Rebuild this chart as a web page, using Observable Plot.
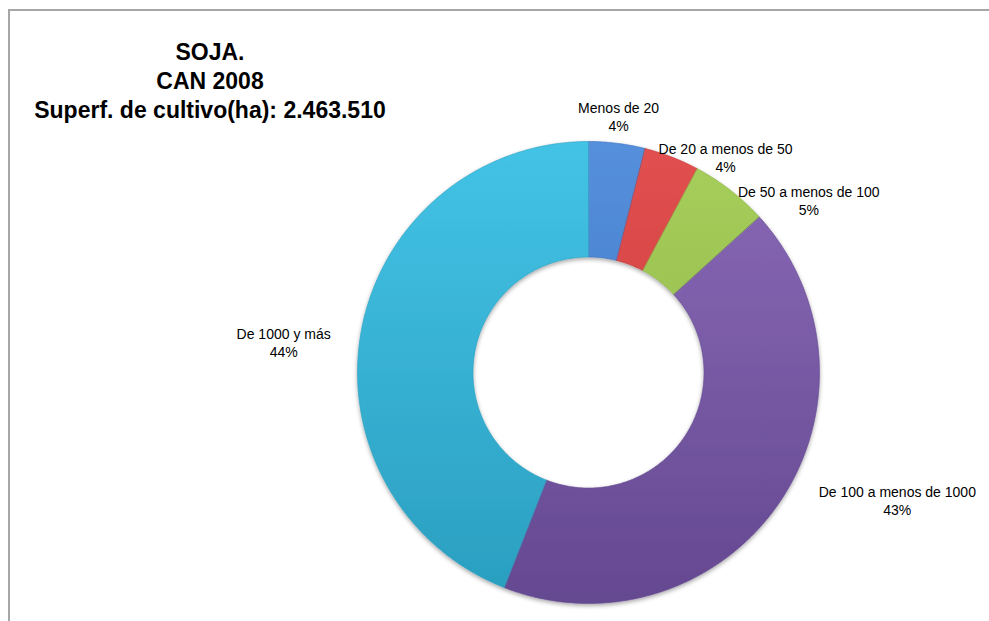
<!DOCTYPE html>
<html>
<head>
<meta charset="utf-8">
<script src="https://cdn.jsdelivr.net/npm/d3@7"></script>
<script src="https://cdn.jsdelivr.net/npm/@observablehq/plot@0.6"></script>
<style>
  html, body { margin: 0; padding: 0; background: #fff; }
  #wrap { position: relative; width: 989px; height: 621px; overflow: hidden; }
  #frame { position: absolute; left: 8px; top: 9px; right: -2px; bottom: -2px; border-left: 2px solid #a6a6a6; border-top: 2px solid #a6a6a6; box-sizing: border-box; pointer-events: none; }
  #title { position: absolute; left: 10px; width: 400px; top: 38px; text-align: center; font-family: "Liberation Sans Narrow", "Liberation Sans", sans-serif; font-weight: bold; font-size: 23px; line-height: 29px; color: #000; }
  #chart { position: absolute; left: 0; top: 0; }
</style>
</head>
<body>
<div id="wrap">
  <div id="chart"></div>
  <div id="frame"></div>
  <div id="title">SOJA.<br>CAN 2008<br>Superf. de cultivo(ha): 2.463.510</div>
</div>
<script>
// ---- data ----
const categories = ["Menos de 20", "De 20 a menos de 50", "De 50 a menos de 100", "De 100 a menos de 1000", "De 1000 y más"];
const shares = [3.96, 3.85, 5.45, 42.7, 44.04]; // percent of cultivated area

// ---- style ----
const colorsTop = ["#5590dc", "#e25050", "#a7cf5c", "#8a6ab8", "#43c3e6"];
const colorsBottom = ["#3a6fbf", "#c43434", "#8ab043", "#644890", "#2a9ebf"];
const labelAngleDeg = [6.7, 32.5, 52, 112.5, 275.6];
const labelRadius = [1.116, 1.104, 1.21, 1.447, 1.326];
const innerFrac = 0.5;
const W = 989, H = 621, CX = 588, CY = 372, R = 231;

// ---- geometry from data ----
const pie = d3.pie().sort(null).value(d => d)(shares);
const polys = [];
pie.forEach((p, i) => {
  const n = Math.max(8, Math.ceil((p.endAngle - p.startAngle) / 0.01));
  for (let k = 0; k <= n; k++) {
    const a = p.startAngle + (p.endAngle - p.startAngle) * k / n;
    polys.push({i, x: Math.sin(a), y: Math.cos(a)});
  }
  for (let k = n; k >= 0; k--) {
    const a = p.startAngle + (p.endAngle - p.startAngle) * k / n;
    polys.push({i, x: innerFrac * Math.sin(a), y: innerFrac * Math.cos(a)});
  }
});
const labels = categories.map((c, i) => {
  const a = labelAngleDeg[i] * Math.PI / 180;
  return {text: c + "\n" + Math.round(shares[i]) + "%", x: labelRadius[i] * Math.sin(a), y: labelRadius[i] * Math.cos(a)};
});

const defs = () => {
  const d = d3.create("svg:defs");
  categories.forEach((c, i) => {
    const g = d.append("linearGradient").attr("id", "g" + i)
      .attr("gradientUnits", "userSpaceOnUse")
      .attr("x1", 0).attr("y1", CY - R).attr("x2", 0).attr("y2", CY + R);
    g.append("stop").attr("offset", "0").attr("stop-color", colorsTop[i]);
    g.append("stop").attr("offset", "1").attr("stop-color", colorsBottom[i]);
  });
  const f = d.append("filter").attr("id", "sh").attr("x", "-20%").attr("y", "-20%").attr("width", "140%").attr("height", "140%");
  f.append("feDropShadow").attr("dx", 0).attr("dy", 2).attr("stdDeviation", 2).attr("flood-color", "#000").attr("flood-opacity", 0.35);
  return d.node();
};

const chart = Plot.plot({
  width: W, height: H,
  margin: 0,
  x: {domain: [-CX / R, (W - CX) / R], axis: null},
  y: {domain: [-(H - CY) / R, CY / R], axis: null},
  color: {type: "identity"},
  style: {background: "transparent"},
  marks: [
    defs,
    Plot.line(polys, {x: "x", y: "y", z: "i", fill: d => `url(#g${d.i})`, stroke: d => colorsBottom[d.i], strokeWidth: 1, strokeOpacity: 0.6, curve: "linear-closed"}),
    Plot.text(labels, {x: "x", y: "y", text: "text", lineHeight: 1.25, fontSize: 14, fill: "#000", fontFamily: "'Liberation Sans Narrow', 'Liberation Sans', sans-serif"})
  ]
});
chart.querySelectorAll("path").forEach(p => { if (p.closest("g") && p.getAttribute("fill") && p.getAttribute("fill").startsWith("url")) p.parentNode.setAttribute("filter", "url(#sh)"); });
document.getElementById("chart").appendChild(chart);
</script>
</body>
</html>
